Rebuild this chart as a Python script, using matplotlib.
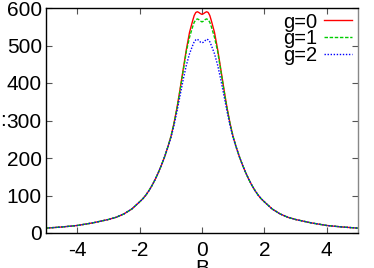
import numpy as np
import matplotlib
matplotlib.use("Agg")
import matplotlib.pyplot as plt

plt.rcParams['font.family'] = ['Liberation Sans', 'DejaVu Sans']
plt.rcParams['axes.unicode_minus'] = False

# B values (curves are symmetric about B=0)
b_half = [-5, -4.5, -4, -3.5, -3, -2.75, -2.5, -2.25, -2, -1.9, -1.8, -1.7, -1.6,
          -1.5, -1.4, -1.3, -1.2, -1.1, -1.0, -0.9, -0.8, -0.7, -0.6, -0.5,
          -0.4, -0.3, -0.25, -0.2, -0.15, -0.1, -0.05]
tail = [13, 16, 20, 27, 36, 42, 51, 64, 83, 91, 101, 113, 127,
        143, 161, 181, 203, 228]
g0_half = tail + [256, 292, 335, 385, 438, 490, 535, 566, 580, 588, 590, 588, 585]
g1_half = tail + [256, 291, 333, 382, 434, 485, 522, 550, 562, 568, 571, 569, 565]
g2_half = tail + [253, 286, 325, 368, 410, 448, 478, 500, 510, 515, 517, 513, 509]
g_center = [583, 563, 507]

B = np.array(b_half + [0] + [-v for v in b_half[::-1]])
def full(half, c):
    return np.array(half + [c] + half[::-1])
series = [("g=0", full(g0_half, g_center[0]), "#ff0000", "-"),
          ("g=1", full(g1_half, g_center[1]), "#00cc00", (0, (2.5, 1.2))),
          ("g=2", full(g2_half, g_center[2]), "#0000ff", (0, (1, 1.2)))]

fig = plt.figure(figsize=(3.74, 2.68), dpi=100)
ax = fig.add_axes([46/374, 1-233/268, (358-46)/374, (233-8)/268])
for lab, y, col, ls in series:
    ax.plot(B, y, color=col, ls=ls, lw=1.0, label=lab)

ax.set_xlim(-5, 5)
ax.set_ylim(0, 600)
ax.set_xticks([-4, -2, 0, 2, 4])
ax.set_yticks([0, 100, 200, 300, 400, 500, 600])
ax.tick_params(direction='in', length=4, top=True, right=True, labelsize=15,
               width=0.8, colors='#555555', labelcolor='black')
ax.tick_params(axis='x', pad=6)
ax.tick_params(axis='y', pad=3)
for s in ax.spines.values():
    s.set_linewidth(1.0)
    s.set_color('black')
ax.spines['right'].set_color('#888888')

ax.set_xlabel('B', fontsize=15, labelpad=-1)
fig.text(0.0, 1-121/268, ':', fontsize=15, ha='left', va='center')

ax.legend(loc='upper right', markerfirst=False, frameon=False, fontsize=14.5,
          handlelength=1.4, handletextpad=0.3, labelspacing=-0.12,
          borderaxespad=0.0, borderpad=0.0, bbox_to_anchor=(0.98, 0.98))

fig.savefig('out.png', dpi=100)
